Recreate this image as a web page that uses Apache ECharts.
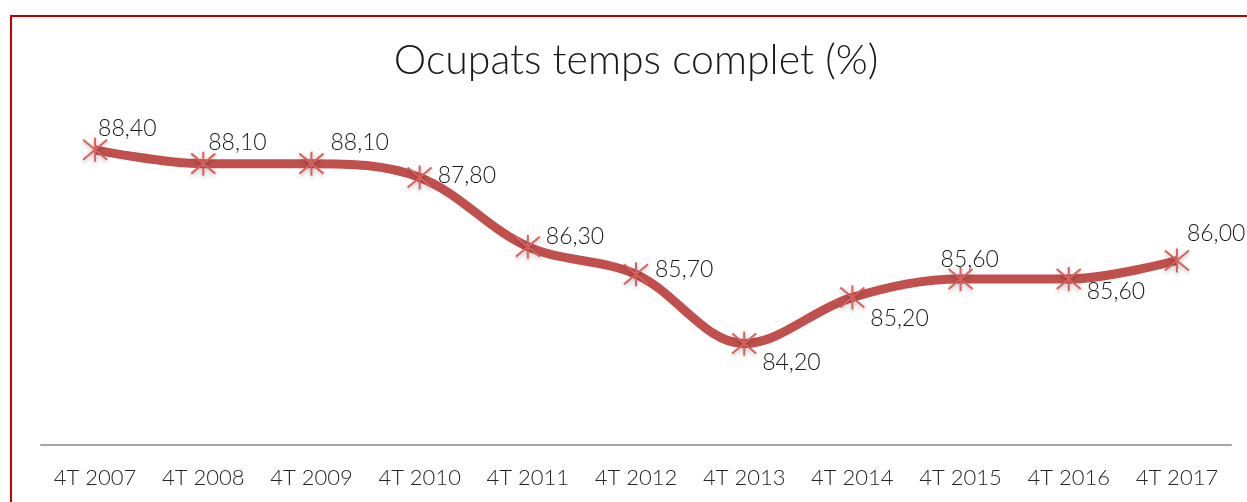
<!DOCTYPE html>
<html><head><meta charset="utf-8">
<script src="https://cdn.jsdelivr.net/npm/echarts@6/dist/echarts.min.js"></script>
<style>html,body{margin:0;padding:0;background:#fff}
#frame{position:absolute;left:10px;top:15px;width:1237px;height:487px;border-left:2px solid #c00000;border-top:2px solid #c00000;box-sizing:border-box}
#c{position:absolute;left:0;top:0;width:1247px;height:502px}</style>
</head><body><div id="frame"></div><div id="c"></div>
<script>
const titleText = 'Ocupats temps complet (%)';
const categories = ['4T 2007','4T 2008','4T 2009','4T 2010','4T 2011','4T 2012','4T 2013','4T 2014','4T 2015','4T 2016','4T 2017'];
const values = [88.40, 88.10, 88.10, 87.80, 86.30, 85.70, 84.20, 85.20, 85.60, 85.60, 86.00];
// label offsets [dx, dy] relative to the point (style only)
const labelOffsets = [[3,-21],[5,-21],[19,-21],[18,-2],[18,-10],[19,-5],[18,19],[18,21],[-20,-19],[18,13],[10,-27]];

const chart = echarts.init(document.getElementById('c'), null, {renderer:'canvas'});
const fontFam = 'Lato, "Open Sans", sans-serif';
chart.setOption({
  animation:false,
  title:{text:titleText,left:631,textAlign:'center',top:35,textStyle:{fontFamily:fontFam,fontWeight:300,fontSize:41,color:'#1a1a1a'}},
  grid:{left:41,right:16,top:76,bottom:57},
  xAxis:{type:'category',data:categories,boundaryGap:true,
    axisLine:{lineStyle:{color:'#a6a6a6',width:2}},axisTick:{show:false},
    axisLabel:{fontFamily:fontFam,fontWeight:300,fontSize:22,color:'#262626',margin:22}},
  yAxis:{type:'value',min:82,max:90,show:false,splitLine:{show:false}},
  series:[{
    type:'line',smooth:0.35,data:values.map((v,i)=>({value:v,label:{offset:labelOffsets[i]}})),
    lineStyle:{color:'#c0504d',width:9},
    symbol:'path://M0,0 L10,10 M10,0 L0,10 M5,-1 L5,11',symbolSize:24,showAllSymbol:true,
    itemStyle:{color:'rgba(0,0,0,0)',borderColor:'#d9605c',borderWidth:2,shadowColor:'rgba(0,0,0,0.3)',shadowBlur:4,shadowOffsetY:2},
    z:3,
    label:{show:true,position:'inside',align:'left',verticalAlign:'middle',fontFamily:fontFam,fontWeight:300,fontSize:23,color:'#1a1a1a',
      formatter:p=>p.value.toFixed(2).replace('.',',')}
  }]
});
</script></body></html>
